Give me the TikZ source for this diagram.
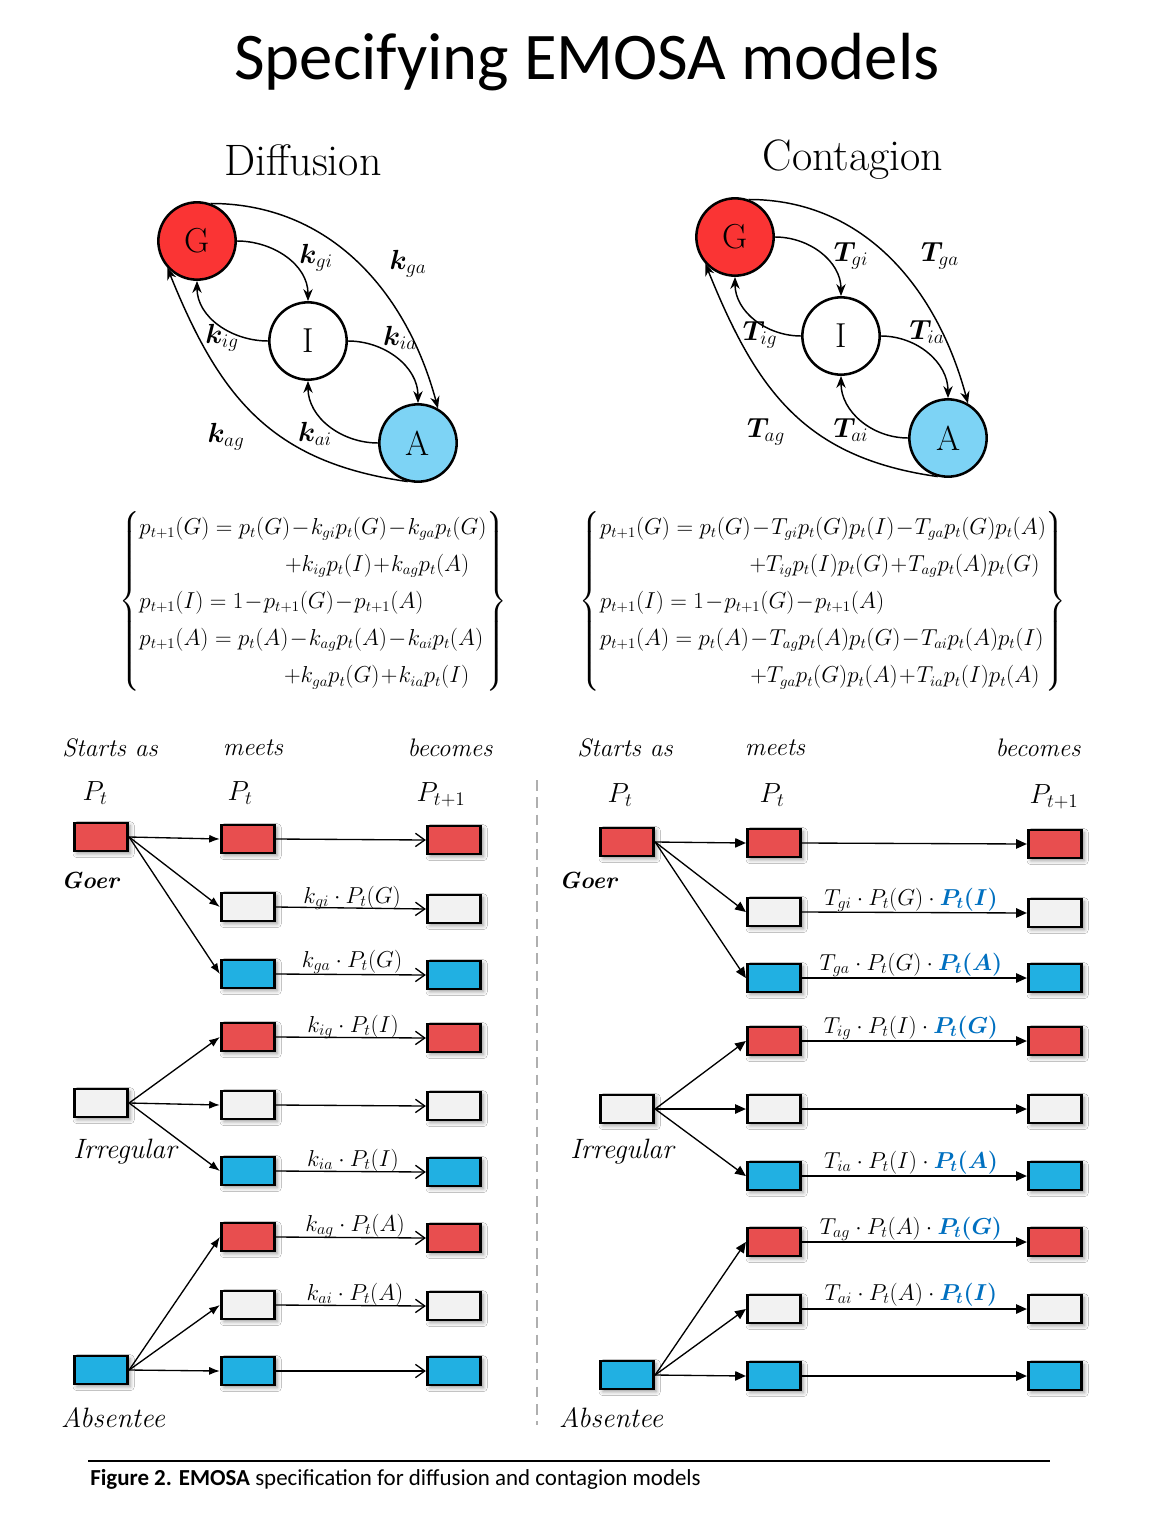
\documentclass[tikz,border=0pt]{standalone}
\usepackage{amsmath,bm}
\usepackage{fontspec}
\newfontfamily\carlito{Carlito}
\usetikzlibrary{arrows.meta,shadows.blur}
\definecolor{gred}{RGB}{250,52,52}
\definecolor{ablue}{RGB}{125,211,245}
\definecolor{bred}{RGB}{232,78,79}
\definecolor{bwhite}{RGB}{242,242,242}
\definecolor{bblue}{RGB}{33,176,226}
\definecolor{tblue}{RGB}{0,112,192}
\definecolor{divgray}{RGB}{175,175,175}
\begin{document}
\begin{tikzpicture}[x=0.75pt,y=0.75pt,
  circ/.style={circle,draw=black,line width=1.9pt,minimum size=58pt,inner sep=0pt,font=\fontsize{26}{30}\selectfont},
  garr/.style={-{Stealth[length=9pt,width=7pt]},line width=1.1pt},
  glab/.style={font=\fontsize{22}{26}\selectfont},
  bx/.style={draw=black,line width=2.2pt,minimum width=40pt,minimum height=21pt,inner sep=0pt,
     blur shadow={shadow xshift=2pt,shadow yshift=-2pt,shadow blur radius=3pt,shadow opacity=40}},
  rbx/.style={bx,fill=bred}, wbx/.style={bx,fill=bwhite}, bbx/.style={bx,fill=bblue},
  fan/.style={-{Latex[length=8pt,width=6pt]},line width=1pt},
  ofl/.style={-{Straight Barb[length=7pt,width=10pt]},line width=1pt},
  rfl/.style={-{Triangle[length=8pt,width=7pt]},line width=1pt},
  hd/.style={font=\fontsize{19}{22}\selectfont\itshape},
  pl/.style={font=\fontsize{20}{24}\selectfont},
  el/.style={font=\fontsize{18.5}{21}\selectfont,anchor=base,inner sep=0pt},
  er/.style={font=\fontsize{17.5}{21}\selectfont,anchor=base,inner sep=0pt},
  stl/.style={font=\fontsize{21}{24}\selectfont\itshape},
  goer/.style={font=\fontsize{17.5}{21}\selectfont\itshape\bfseries},
  eqn/.style={font=\fontsize{16.2}{19.44}\selectfont},
]
\useasboundingbox[fill=white] (0,0) rectangle (1150,-1513);

% Title
\node (title) at (587,-62) {\carlito\fontsize{50}{56}\selectfont Specifying EMOSA models};
\node (tdiff) at (303,-160) {\fontsize{33}{38}\selectfont Diffusion};
\node (tcont) at (853,-160) {\fontsize{33}{38}\selectfont Contagion};

% Diffusion graph
\node[circ,fill=gred] (G) at (197,-241) {G};
\node[circ,fill=white] (I) at (308,-341) {I};
\node[circ,fill=ablue] (A) at (418,-443) {A};
\draw[garr] (G.east) to[out=0,in=90] (I.north);
\draw[garr] (I.west) to[out=180,in=-90] (G.south);
\draw[garr] (I.east) to[out=0,in=90] (A.north);
\draw[garr] (A.west) to[out=180,in=-90] (I.south);
\draw[garr] (G.70) to[out=0,in=105] (A.60);
\draw[garr] (A.255) to[out=172,in=-68,looseness=1.1] (G.222);
\node[glab] (kgi) at (316,-258) {$\bm{k}_{gi}$};
\node[glab] (kga) at (408,-264) {$\bm{k}_{ga}$};
\node[glab] (kig) at (222,-338) {$\bm{k}_{ig}$};
\node[glab] (kia) at (400,-338) {$\bm{k}_{ia}$};
\node[glab] (kag) at (226,-437) {$\bm{k}_{ag}$};
\node[glab] (kai) at (315,-434) {$\bm{k}_{ai}$};

% Contagion graph
\node[circ,fill=gred] (G2) at (735,-237) {G};
\node[circ,fill=white] (I2) at (841,-336) {I};
\node[circ,fill=ablue] (A2) at (948,-438) {A};
\draw[garr] (G2.east) to[out=0,in=90] (I2.north);
\draw[garr] (I2.west) to[out=180,in=-90] (G2.south);
\draw[garr] (I2.east) to[out=0,in=90] (A2.north);
\draw[garr] (A2.west) to[out=180,in=-90] (I2.south);
\draw[garr] (G2.70) to[out=0,in=105] (A2.60);
\draw[garr] (A2.255) to[out=172,in=-68,looseness=1.1] (G2.222);
\node[glab] (Tgi) at (851,-256) {$\bm{T}_{gi}$};
\node[glab] (Tga) at (940,-256) {$\bm{T}_{ga}$};
\node[glab] (Tig) at (760,-335) {$\bm{T}_{ig}$};
\node[glab] (Tia) at (927,-332) {$\bm{T}_{ia}$};
\node[glab] (Tag) at (766,-432) {$\bm{T}_{ag}$};
\node[glab] (Tai) at (851,-430) {$\bm{T}_{ai}$};

% Equations
\node[eqn] (eqL) at (313,-601) {$\medmuskip=1mu\renewcommand\arraystretch{1.43}\left\{\begin{array}{@{}l@{}}
p_{t+1}(G)=p_t(G)-k_{gi}p_t(G)-k_{ga}p_t(G)\\
\hfill +k_{ig}p_t(I)+k_{ag}p_t(A)\hspace{0.8em}\\
p_{t+1}(I)=1-p_{t+1}(G)-p_{t+1}(A)\\
p_{t+1}(A)=p_t(A)-k_{ag}p_t(A)-k_{ai}p_t(A)\\
\hfill +k_{ga}p_t(G)+k_{ia}p_t(I)\hspace{0.8em}
\end{array}\right\}$};
\node[eqn] (eqR) at (823,-601) {$\medmuskip=1mu\renewcommand\arraystretch{1.43}\left\{\begin{array}{@{}l@{}}
p_{t+1}(G)=p_t(G)-T_{gi}p_t(G)p_t(I)-T_{ga}p_t(G)p_t(A)\\
\hfill +T_{ig}p_t(I)p_t(G)+T_{ag}p_t(A)p_t(G)\hspace{0.3em}\\
p_{t+1}(I)=1-p_{t+1}(G)-p_{t+1}(A)\\
p_{t+1}(A)=p_t(A)-T_{ag}p_t(A)p_t(G)-T_{ai}p_t(A)p_t(I)\\
\hfill +T_{ga}p_t(G)p_t(A)+T_{ia}p_t(I)p_t(A)\hspace{0.3em}
\end{array}\right\}$};

% Headings
\node[hd] (hL1) at (110,-748) {Starts as};
\node[hd] (hL2) at (253,-748) {meets};
\node[hd] (hL3) at (450,-748) {becomes};
\node[hd] (hR1) at (625,-748) {Starts as};
\node[hd] (hR2) at (775,-748) {meets};
\node[hd] (hR3) at (1038,-748) {becomes};
\node[pl] (pL1) at (95,-793) {$P_t$};
\node[pl] (pL2) at (240,-793) {$P_t$};
\node[pl] (pL3) at (441,-795) {$P_{t+1}$};
\node[pl] (pR1) at (620,-795) {$P_t$};
\node[pl] (pR2) at (772,-795) {$P_t$};
\node[pl] (pR3) at (1054,-797) {$P_{t+1}$};

% Left flow boxes
\node[rbx] (L1g) at (101,-837) {};
\node[wbx] (L1i) at (101,-1103) {};
\node[bbx] (L1a) at (101,-1370) {};
\foreach \i/\ya/\yb/\s in {1/839/840/rbx,2/907/909/wbx,3/974/975/bbx,4/1037/1038/rbx,5/1105/1106/wbx,6/1171/1172/bbx,7/1237/1238/rbx,8/1305/1306/wbx,9/1371/1371/bbx}{
  \node[style=\s] (L2\i) at (248,-\ya) {};
  \node[style=\s] (L3\i) at (454,-\yb) {};
  \draw[ofl] (L2\i.east) -- (L3\i.west);
}
\foreach \i in {1,2,3}{\draw[fan] (L1g.east) -- (L2\i.west);}
\foreach \i in {4,5,6}{\draw[fan] (L1i.east) -- (L2\i.west);}
\foreach \i in {7,8,9}{\draw[fan] (L1a.east) -- (L2\i.west);}
\node[goer] (goerL) at (90,-880) {Goer};
\node[stl] (irrL) at (125,-1152) {Irregular};
\node[stl] (absL) at (113,-1418) {Absentee};
\node[el] (lk2) at (352,-903) {$k_{gi}\cdot P_t(G)$};
\node[el] (lk3) at (352,-967) {$k_{ga}\cdot P_t(G)$};
\node[el] (lk4) at (353,-1032) {$k_{ig}\cdot P_t(I)$};
\node[el] (lk6) at (353,-1166) {$k_{ia}\cdot P_t(I)$};
\node[el] (lk7) at (355,-1231) {$k_{ag}\cdot P_t(A)$};
\node[el] (lk8) at (355,-1300) {$k_{ai}\cdot P_t(A)$};

% divider
\draw[divgray,line width=1.5pt,dash pattern=on 8pt off 5pt] (537,-780) -- (537,-1425);

% Right flow boxes
\node[rbx] (R1g) at (627,-842) {};
\node[wbx] (R1i) at (627,-1109) {};
\node[bbx] (R1a) at (627,-1375) {};
\foreach \i/\ya/\yb/\s in {1/843/844/rbx,2/912/913/wbx,3/978/978/bbx,4/1041/1041/rbx,5/1109/1109/wbx,6/1176/1176/bbx,7/1242/1242/rbx,8/1309/1309/wbx,9/1376/1376/bbx}{
  \node[style=\s] (R2\i) at (774,-\ya) {};
  \node[style=\s] (R3\i) at (1055,-\yb) {};
  \draw[rfl] (R2\i.east) -- (R3\i.west);
}
\foreach \i in {1,2,3}{\draw[rfl] (R1g.east) -- (R2\i.west);}
\foreach \i in {4,5,6}{\draw[rfl] (R1i.east) -- (R2\i.west);}
\foreach \i in {7,8,9}{\draw[rfl] (R1a.east) -- (R2\i.west);}
\node[goer] (goerR) at (588,-880) {Goer};
\node[stl] (irrR) at (622,-1152) {Irregular};
\node[stl] (absR) at (611,-1418) {Absentee};
\node[er] (rk2) at (911,-905) {$T_{gi}\cdot P_t(G)\cdot\textcolor{tblue}{\bm{P_t(I)}}$};
\node[er] (rk3) at (911,-970) {$T_{ga}\cdot P_t(G)\cdot\textcolor{tblue}{\bm{P_t(A)}}$};
\node[er] (rk4) at (911,-1033) {$T_{ig}\cdot P_t(I)\cdot\textcolor{tblue}{\bm{P_t(G)}}$};
\node[er] (rk6) at (911,-1168) {$T_{ia}\cdot P_t(I)\cdot\textcolor{tblue}{\bm{P_t(A)}}$};
\node[er] (rk7) at (911,-1234) {$T_{ag}\cdot P_t(A)\cdot\textcolor{tblue}{\bm{P_t(G)}}$};
\node[er] (rk8) at (911,-1300) {$T_{ai}\cdot P_t(A)\cdot\textcolor{tblue}{\bm{P_t(I)}}$};

% Caption
\draw[line width=1pt] (88,-1461) -- (1050,-1461);
\node[anchor=west,inner sep=0pt] (cap) at (90,-1479) {\carlito\fontsize{17.2}{20}\selectfont\textbf{Figure 2. EMOSA} specification for diffusion and contagion models};
\end{tikzpicture}
\end{document}
